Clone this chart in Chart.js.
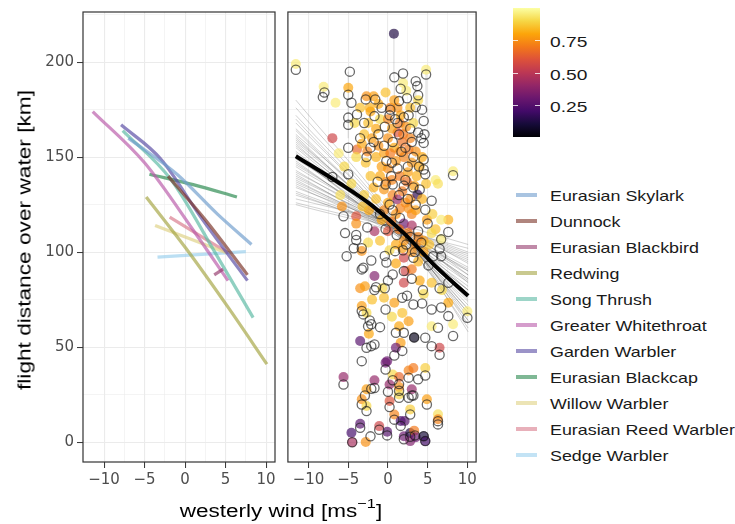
<!DOCTYPE html>
<html>
<head>
<meta charset="utf-8">
<script src="https://cdn.jsdelivr.net/npm/chart.js@4.4.1/dist/chart.umd.min.js"></script>
<style>
body { margin: 0; background: #fff; font-family: "Liberation Sans", Arial, sans-serif; }
#wrap { position: relative; width: 735px; height: 524px; overflow: hidden; }
canvas { position: absolute; top: 0; }
#left { left: 0; }
#right { left: 282px; }
.ytitle { position: absolute; left: 25px; top: 240px; transform: translate(-50%, -50%) rotate(-90deg) scaleX(1.26); font-size: 18px; white-space: nowrap; color: #000; }
.xtitle { position: absolute; left: 281px; top: 510px; transform: translate(-50%, -50%) scaleX(1.25); font-size: 18px; white-space: nowrap; color: #000; }
.xtitle sup { font-size: 13px; position: relative; top: -2px; }
#cbar { position: absolute; left: 513px; top: 8px; width: 27px; height: 129px; }
.ctick { position: absolute; width: 5px; height: 1px; background: rgba(255,255,255,0.8); }
.clab { position: absolute; left: 550px; font-size: 15px; color: #1a1a1a; transform: translateY(-50%) scaleX(1.28); transform-origin: left center; }
.lkey { position: absolute; left: 516px; width: 21px; height: 4px; }
.ltxt { position: absolute; left: 550px; font-size: 15px; color: #1a1a1a; transform: translateY(-50%) scaleX(1.19); transform-origin: left center; white-space: nowrap; }
</style>
</head>
<body>
<div id="wrap">
	<canvas id="left" width="280" height="524"></canvas>
	<canvas id="right" width="200" height="524"></canvas>
	<div class="ytitle">flight distance over water [km]</div>
	<div class="xtitle">westerly wind [ms<sup>−1</sup>]</div>
	<div id="cbar"></div>
	<div id="legend"></div>
</div>
<script>
// axis ticks
const xTickValues = [-10, -7.5, -5, -2.5, 0, 2.5, 5, 7.5, 10];
const yTickValues = [0, 25, 50, 75, 100, 125, 150, 175, 200, 225];
const colorbarTicks = [0.25, 0.5, 0.75];

// species fits (left panel)
const speciesNames = ["Eurasian Skylark", "Dunnock", "Eurasian Blackbird", "Redwing", "Song Thrush",
	"Greater Whitethroat", "Garden Warbler", "Eurasian Blackcap", "Willow Warbler", "Eurasian Reed Warbler", "Sedge Warbler"];
const speciesColors = ["112,157,205", "123,52,40", "150,60,110", "165,165,68", "92,185,163",
	"185,92,170", "88,75,163", "42,137,78", "223,210,132", "217,123,140", "155,208,238"];
const speciesX = [
	[-7, -1, 4, 8.2],
	[-2.1, 2.5, 7.7],
	[3.6, 4.7],
	[-4.8, 0.1, 5.3, 10.1],
	[-7.7, -1.7, 3.6, 8.4],
	[-11.4, -5, 1.1, 5.3],
	[-7.9, -3, 2, 7.7],
	[-4.4, 1, 6.4],
	[-3.7, 5.1],
	[-1.9, 5.3],
	[-3.4, 7.5],
];
const speciesY = [
	[160, 141, 120, 104],
	[140, 117, 88],
	[88, 91],
	[129, 102, 71, 41],
	[164, 138, 100.5, 65.5],
	[174, 147, 111, 85],
	[167, 149, 118, 85],
	[141, 135.5, 129],
	[114, 99.6],
	[118.4, 99.6],
	[97.4, 100.2],
];

// pooled fit (right panel)
const fitX = [-11.6, -6, -2, 2, 6, 10.1];
const fitY = [150.5, 136, 124.5, 110, 92.5, 77];
const bootX = [-11.6, 1, 10.1];
const bootY = [
	[172, 115, 62], [165, 113, 70], [160, 112, 72], [158, 114, 80], [155, 111, 75], [153, 113, 85],
	[150, 112, 78], [148, 110, 82], [146, 114, 90], [145, 111, 68], [143, 112, 88], [140, 113, 95],
	[138, 110, 84], [136, 112, 92], [134, 114, 100], [132, 111, 86], [130, 113, 98], [128, 115, 104],
	[126, 112, 96], [162, 116, 76], [168, 114, 66], [152, 109, 74], [157, 110, 64], [142, 115, 94],
	[135, 109, 80], [180, 117, 58], [125, 110, 90], [149, 116, 88], [161, 111, 70], [139, 114, 99],
	[170, 113, 60], [164, 112, 68], [156, 113, 77], [151, 110, 80], [147, 112, 86], [141, 111, 91],
	[137, 113, 97], [131, 112, 102], [176, 116, 64], [159, 115, 84],
];

// tracks: estimated distance [x, y, probability]
const filledPoints = [
	[-11.6, 199, 0.95], [0.75, 215, 0.12], [4.8, 196, 0.95], [1.9, 189, 0.95], [-8.1, 187, 0.95],
	[-5.0, 186.5, 0.8], [-6.6, 178.6, 0.95], [2.3, 185, 0.95], [3.8, 180, 0.9], [-2.7, 182, 0.75],
	[-1.8, 182, 0.78], [-2.3, 176, 0.82], [-7.0, 160, 0.55], [-3.9, 154, 0.65], [1.2, 163, 0.6],
	[-2.2, 174, 0.8], [-2.5, 168, 0.85], [-1.5, 165, 0.8], [-3.0, 162, 0.85], [-2.0, 160, 0.78],
	[-1.0, 170, 0.9], [0.0, 160, 0.75], [0.5, 165, 0.78], [1.5, 168, 0.7], [2.3, 166, 0.75],
	[3.2, 168, 0.9], [2.8, 160, 0.72], [1.8, 158, 0.68], [0.8, 155, 0.8], [-0.5, 152, 0.78],
	[-1.5, 150, 0.82], [-2.8, 147, 0.85], [-4.0, 150, 0.9], [-5.5, 145, 0.9], [-6.2, 152, 0.95],
	[3.5, 153, 0.75], [4.3, 150, 0.8], [2.0, 150, 0.72], [1.0, 148, 0.76], [0.0, 144, 0.74],
	[-1.0, 140, 0.8], [-2.2, 140, 0.85], [1.5, 140, 0.7], [2.5, 142, 0.78], [3.6, 140, 0.82],
	[4.8, 136, 0.85], [6.0, 138, 0.95], [6.3, 136, 0.92], [8.2, 142.6, 0.95], [-0.5, 133, 0.76],
	[0.6, 130, 0.72], [1.8, 132, 0.7], [2.8, 128, 0.75], [3.7, 130.3, 0.15], [1.2, 127.7, 0.4],
	[0.0, 126, 0.8], [-1.5, 128, 0.85], [-3.0, 130, 0.88], [-5.8, 124, 0.75], [-4.0, 118.9, 0.6],
	[-4.0, 115, 0.75], [-1.7, 111, 0.45], [0.0, 111, 0.6], [2.0, 115, 0.3], [3.0, 114, 0.45],
	[3.0, 120, 0.72], [4.9, 117, 0.78], [7.6, 117, 0.82], [6.7, 117, 0.95], [6.0, 112, 0.85],
	[6.7, 106.7, 0.95], [1.0, 120, 0.76], [-0.8, 117, 0.8], [2.0, 106, 0.75], [1.0, 104, 0.8],
	[3.5, 104, 0.72], [4.5, 100, 0.78], [-3.3, 100.6, 0.75], [2.0, 97, 0.55], [4.5, 106, 0.78],
	[-2.5, 105, 0.9], [0.2, 101, 0.9], [5.5, 110, 0.9], [1.6, 172, 0.8], [0.3, 176, 0.72],
	[2.6, 154, 0.7], [-0.2, 137, 0.74], [3.3, 135, 0.78], [1.4, 112, 0.7], [2.6, 123, 0.75],
	[-1.2, 178, 0.8], [0.8, 180, 0.78], [-0.3, 184, 0.85], [1.2, 176, 0.75], [2.8, 176, 0.85],
	[-3.5, 176, 0.85], [-4.2, 168, 0.9], [-3.3, 157, 0.8], [-2.6, 153, 0.72], [-1.2, 156, 0.75],
	[0.3, 152, 0.7], [1.5, 153, 0.73], [3.0, 147, 0.76], [4.0, 145, 0.8], [0.5, 138, 0.72],
	[-1.8, 134, 0.82], [2.2, 126, 0.74], [1.5, 123, 0.72], [3.5, 122, 0.78], [4.3, 128, 0.82],
	[-2.4, 122, 0.8], [-3.2, 124, 0.85], [-0.5, 122, 0.73], [0.4, 116, 0.7], [2.5, 110, 0.7],
	[3.8, 108, 0.72], [1.8, 102, 0.78], [-1.0, 106, 0.85], [3.0, 100, 0.75], [5.2, 104, 0.85],
	[-4.6, 136, 0.9], [-6.0, 130, 0.92], [0.0, 170, 0.72], [1.9, 162, 0.7], [-0.8, 145, 0.78],
	[2.4, 137, 0.68], [5.6, 120, 0.88], [1.0, 94, 0.8], [3.8, 95, 0.82], [-2.0, 75, 0.85],
	[-1.7, 87.4, 0.35], [-3.5, 81, 0.75], [-2.9, 82, 0.78], [-0.7, 81, 0.9], [0.8, 73.3, 0.78],
	[2.0, 83.9, 0.55], [2.2, 90, 0.55], [3.0, 91, 0.7], [4.0, 85, 0.8], [5.5, 83.9, 0.85],
	[4.5, 78, 0.9], [6.8, 80, 0.9], [7.6, 73.3, 0.8], [10.0, 68.9, 0.95], [8.2, 62, 0.95],
	[5.5, 61, 0.95], [3.3, 55, 0.05], [6.5, 49.6, 0.55], [2.6, 63.6, 0.78], [1.4, 61, 0.8],
	[1.6, 52.3, 0.78], [1.0, 49.6, 0.3], [-3.5, 53.2, 0.25], [-2.4, 57, 0.8], [-3.3, 71.6, 0.78],
	[-2.7, 68, 0.9], [-0.1, 42.6, 0.3], [0.5, 66, 0.9], [-0.5, 76, 0.85], [1.8, 68, 0.85],
	[-5.6, 34.2, 0.4], [-1.7, 32.5, 0.4], [-0.3, 41.8, 0.3], [0.6, 35.6, 0.9], [1.4, 34.2, 0.65],
	[0.2, 30.3, 0.4], [1.4, 29, 0.75], [2.6, 37.7, 0.72], [3.2, 39, 0.7], [4.7, 39, 0.88],
	[3.0, 27.8, 0.4], [1.4, 25, 0.9], [-2.7, 27.8, 0.78], [-3.3, 22.5, 0.75], [-2.7, 19, 0.9],
	[0.2, 21.6, 0.6], [4.9, 22.5, 0.78], [2.8, 17.2, 0.88], [0.8, 14.5, 0.72], [1.6, 11.1, 0.2],
	[2.1, 11.1, 0.25], [6.3, 14.6, 0.92], [6.3, 12, 0.72], [-3.5, 9.6, 0.25], [-4.6, 4.9, 0.2],
	[-4.5, -0.1, 0.45], [-2.8, 0.0, 0.75], [-1.1, 8.4, 0.55], [-0.1, 5.4, 0.25], [2.0, 3.1, 0.3],
	[2.8, 4.8, 0.12], [2.8, 0.5, 0.35], [3.3, 6, 0.7], [3.5, 2.5, 0.3], [4.5, 3.1, 0.1], [4.7, 0.5, 0.2],
];

// tracks: observed distance [x, y]
const openPoints = [
	[-11.6, 196], [-4.8, 195], [0.8, 192], [1.9, 194], [4.8, 193.5], [3.5, 190], [1.6, 186], [3.7, 187.4],
	[3.8, 182.6], [2.4, 181], [1.4, 179.5], [-8.0, 184], [-8.2, 181.6], [-5.0, 182.8], [-4.6, 178.6],
	[-2.8, 180.4], [-1.6, 180.4], [3.5, 176.4], [4.3, 175], [-3.9, 172.5], [-5.0, 170.8], [-5.0, 167],
	[-1.7, 171.6], [-3.0, 168], [4.5, 169], [2.0, 171], [0.3, 175], [0.9, 170], [-0.4, 166], [2.8, 165],
	[4.6, 162], [-5, 154.9], [-2.7, 150], [1.7, 152.8], [4.5, 157.5], [1.4, 161.9], [3.0, 158], [4.2, 160],
	[4.5, 148.7], [-0.5, 156], [-1.8, 158], [-3.5, 160], [0.5, 147], [2.5, 145], [3.2, 150],
	[8.2, 140.5], [-7.0, 139.5], [-5.0, 141], [-0.3, 135.6], [0.6, 135.6], [4.7, 141], [4.5, 143.5],
	[5.5, 127], [-5.6, 118.9], [-5.4, 110], [-4.0, 109], [-4.0, 106.4], [-2.6, 113], [4.7, 122.3],
	[7.6, 110.6], [6.7, 106.7], [6.5, 101.7], [5.7, 97.8], [6.7, 97.8], [-3.3, 102], [-4.3, 102],
	[-5.2, 97.8], [-2.1, 95.6], [-3.1, 91.8], [-0.4, 98], [-0.2, 94.5], [0.9, 100.5], [3.2, 97],
	[1.4, 130], [2.5, 128], [2.2, 138], [3.2, 134], [0.2, 125], [-1.0, 120], [1.5, 118], [3.8, 111],
	[2.3, 104], [5.0, 115], [-0.8, 176], [0.2, 172], [1.2, 168], [2.6, 172], [-1.2, 162], [0.6, 158],
	[2.2, 155], [3.8, 163], [-2.2, 155], [-0.2, 148], [1.2, 144], [3.9, 145], [-1.3, 137], [0.4, 140],
	[2.0, 135], [4.0, 133], [3.5, 125], [0.6, 122], [-0.3, 112], [1.1, 109], [2.8, 108], [4.2, 105],
	[3.4, 100], [1.9, 101], [5.1, 93],
	[-3.3, 90.9], [-1.7, 80], [-1.5, 81.5], [-0.4, 81], [0.6, 88.2], [7.6, 83.9], [6.5, 81], [1.8, 76],
	[2.4, 77], [3.2, 72.4], [4.3, 73], [5.5, 69.8], [6.7, 70.8], [7.6, 66.3], [10.0, 65.4], [8.2, 55.8],
	[6.3, 60.2], [3.3, 55], [4.7, 54.9], [5.5, 50.5], [6.5, 46], [1.0, 57.5], [2.0, 57.5], [1.8, 48],
	[0.8, 45.6], [-2.7, 49.6], [-2.1, 50.5], [-1.7, 51.4], [-2.1, 62], [-1.0, 60.5], [-2.5, 61],
	[-3.1, 67.2], [-2.3, 64], [-3.3, 69], [-0.3, 69.8], [-3.3, 42.6], [3.0, 86], [4.4, 80], [2.0, 90], [0.0, 85],
	[-5.6, 30.3], [-1.7, 28.5], [-2.1, 28], [-0.3, 38.2], [0.6, 32.5], [1.4, 30.5], [0.0, 26.5], [1.4, 27],
	[2.6, 33.9], [3.8, 33], [4.7, 35], [3.0, 24.5], [3.2, 24.5], [1.4, 23.3], [2.6, 23.3], [-2.9, 24.5],
	[-3.3, 19.8], [-2.7, 16.3], [0.2, 18.4], [4.9, 19.8], [2.8, 14.5], [0.8, 11.8], [1.6, 8.5], [6.3, 9.3],
	[6.3, 11], [-3.5, 7.5], [-4.5, -0.1], [-1.1, 6.5], [-0.1, 3.5], [2.0, 1.5], [2.8, 2.8], [4.5, 3.1],
	[4.7, 0.5], [-2.2, 3], [3.4, 3.5],
];

// links between estimate and observation [x, y1, y2]
const linkSegments = [[0.75, 215, 192], [-5.0, 195, 160], [0.8, 192, 168], [4.8, 196, 175], [3.5, 190, 150], [-8.1, 187, 181]];

const FONT = "'DejaVu Sans', 'Liberation Sans', sans-serif";
const infernoStops = [[0,0,4],[22,11,57],[66,10,104],[106,23,110],[147,38,103],[188,55,84],[221,81,58],[243,120,25],[252,165,10],[246,215,70],[252,255,164]];

function inferno(p, a) {
	const t = Math.max(0, Math.min(1, p)) * 10;
	const i = Math.min(9, Math.floor(t));
	const f = t - i;
	const c = infernoStops[i].map((v, k) => Math.round(v + (infernoStops[i + 1][k] - v) * f));
	return a === undefined ? `rgb(${c})` : `rgba(${c},${a})`;
}

const fmt = (v) => (v < 0 ? "\u2212" + Math.abs(v) : String(v));

function xAxis() {
	return {
		type: "linear",
		min: -12.6,
		max: 11.1,
		afterBuildTicks: (s) => { s.ticks = xTickValues.map((v) => ({ value: v })); },
		afterFit: (s) => { s.height = 62; },
		ticks: { autoSkip: false, maxRotation: 0, padding: 3, color: "#4d4d4d", font: { size: 15, family: FONT },
			callback: (v) => (v % 5 === 0 ? fmt(v) : "") },
		grid: {
			color: "#ebebeb",
			lineWidth: (c) => (c.tick && c.tick.value % 5 === 0 ? 1.1 : 0.55),
			tickLength: 6,
			tickWidth: 1,
			tickColor: (c) => (c.tick && c.tick.value % 5 === 0 ? "#333" : "rgba(0,0,0,0)"),
		},
		border: { display: false },
	};
}

function yAxis(withLabels) {
	return {
		type: "linear",
		min: -10.5,
		max: 226.4,
		afterBuildTicks: (s) => { s.ticks = yTickValues.map((v) => ({ value: v })); },
		afterFit: (s) => { s.width = withLabels ? 83 : 5; },
		ticks: { display: withLabels, padding: 3, color: "#4d4d4d", font: { size: 15, family: FONT },
			callback: (v) => (v % 50 === 0 ? String(v) : "") },
		grid: {
			color: "#ebebeb",
			lineWidth: (c) => (c.tick && c.tick.value % 50 === 0 ? 1.1 : 0.55),
			drawTicks: withLabels,
			tickLength: 6,
			tickWidth: 1,
			tickColor: (c) => (c.tick && c.tick.value % 50 === 0 ? "#333" : "rgba(0,0,0,0)"),
		},
		border: { display: false },
	};
}

const panelBox = {
	id: "panelBox",
	afterDatasetsDraw(chart) {
		const { ctx, chartArea: a } = chart;
		ctx.save();
		ctx.strokeStyle = "#333";
		ctx.lineWidth = 1.2;
		ctx.strokeRect(a.left, a.top, a.right - a.left, a.bottom - a.top);
		ctx.restore();
	},
};

const lineOf = (xs, ys) => xs.map((x, i) => ({ x: x, y: ys[i] }));

// left panel: one fitted curve per species
const leftSets = speciesNames.map((name, i) => ({
	type: "line",
	label: name,
	data: lineOf(speciesX[i], speciesY[i]),
	borderColor: `rgba(${speciesColors[i]},0.68)`,
	borderWidth: 3.2,
	pointRadius: 0,
	cubicInterpolationMode: "monotone",
	fill: false,
}));

new Chart(document.getElementById("left"), {
	type: "scatter",
	data: { datasets: leftSets },
	options: {
		responsive: false,
		animation: false,
		events: [],
		layout: { padding: { top: 12, right: 5, left: 0, bottom: 0 } },
		plugins: { legend: { display: false }, tooltip: { enabled: false } },
		scales: { x: xAxis(), y: yAxis(true) },
	},
	plugins: [panelBox],
});

// right panel
const rightSets = [];
bootY.forEach((ys) => {
	rightSets.push({ type: "line", data: lineOf(bootX, ys), borderColor: "rgba(60,60,60,0.26)", borderWidth: 0.9,
		pointRadius: 0, cubicInterpolationMode: "monotone", order: 5 });
});
linkSegments.forEach((s) => {
	rightSets.push({ type: "line", data: [{ x: s[0], y: s[1] }, { x: s[0], y: s[2] }], borderColor: "rgba(150,150,150,0.3)",
		borderWidth: 1.2, pointRadius: 0, order: 4 });
});
rightSets.push({
	type: "scatter",
	data: filledPoints.map((d) => ({ x: d[0], y: d[1], p: d[2] })),
	pointRadius: 5,
	pointBorderWidth: 0,
	pointBackgroundColor: (c) => (c.raw ? inferno(c.raw.p, 0.68) : "transparent"),
	order: 3,
});
rightSets.push({
	type: "scatter",
	data: openPoints.map((d) => ({ x: d[0], y: d[1] })),
	pointRadius: 4.6,
	pointBorderWidth: 1.3,
	pointBackgroundColor: "rgba(0,0,0,0)",
	pointBorderColor: "rgba(25,25,25,0.65)",
	order: 2,
});
rightSets.push({ type: "line", data: lineOf(fitX, fitY), borderColor: "#000", borderWidth: 4, pointRadius: 0,
	cubicInterpolationMode: "monotone", order: 1 });

new Chart(document.getElementById("right"), {
	type: "scatter",
	data: { datasets: rightSets },
	options: {
		responsive: false,
		animation: false,
		events: [],
		layout: { padding: { top: 12, right: 3, left: 0, bottom: 0 } },
		plugins: { legend: { display: false }, tooltip: { enabled: false } },
		scales: { x: xAxis(), y: yAxis(false) },
	},
	plugins: [panelBox],
});

// colour bar
const cbar = document.getElementById("cbar");
const gradStops = [];
for (let k = 0; k <= 10; k++) gradStops.push(`${inferno(k / 10)} ${k * 10}%`);
cbar.style.background = `linear-gradient(to top, ${gradStops.join(", ")})`;
const wrap = document.getElementById("wrap");
colorbarTicks.forEach((v) => {
	const top = 8 + (1 - v) * 129;
	[513, 535].forEach((left) => {
		const t = document.createElement("div");
		t.className = "ctick";
		t.style.left = left + "px";
		t.style.top = top + "px";
		wrap.appendChild(t);
	});
	const lab = document.createElement("div");
	lab.className = "clab";
	lab.style.top = top + 1 + "px";
	lab.textContent = v.toFixed(2);
	wrap.appendChild(lab);
});

// species legend
const legend = document.getElementById("legend");
speciesNames.forEach((name, i) => {
	const y = 195 + 26 * i;
	const key = document.createElement("div");
	key.className = "lkey";
	key.style.top = y - 2 + "px";
	key.style.background = `rgba(${speciesColors[i]},0.6)`;
	legend.appendChild(key);
	const txt = document.createElement("div");
	txt.className = "ltxt";
	txt.style.top = y + "px";
	txt.textContent = name;
	legend.appendChild(txt);
});
</script>
</body>
</html>
